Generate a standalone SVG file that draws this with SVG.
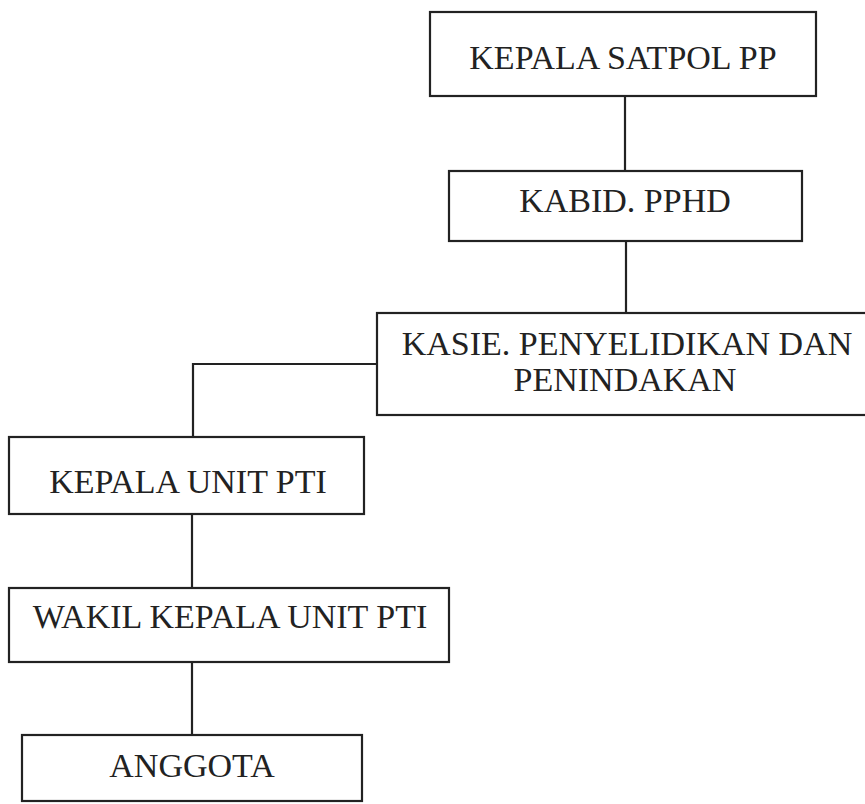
<svg xmlns="http://www.w3.org/2000/svg" width="865" height="804" viewBox="0 0 865 804">
<style>
.box{fill:#fff;stroke:#222;stroke-width:2.2}
.lbl{font-family:"Liberation Serif","Times New Roman",serif;font-size:34px;fill:#222;text-anchor:middle}
.conn{fill:none;stroke:#222;stroke-width:2.2}
</style>
<rect width="865" height="804" fill="#fff"/>
<g id="connectors">
<line class="conn" x1="625" y1="96" x2="625" y2="171"/>
<line class="conn" x1="626" y1="241" x2="626" y2="313"/>
<polyline class="conn" points="377,364 193,364 193,437"/>
<line class="conn" x1="192" y1="514" x2="192" y2="588"/>
<line class="conn" x1="192" y1="662" x2="192" y2="735"/>
</g>
<g id="kepala-satpol">
<rect class="box" x="430" y="12" width="386" height="84"/>
<text class="lbl" x="623" y="69">KEPALA SATPOL PP</text>
</g>
<g id="kabid">
<rect class="box" x="449" y="171" width="353" height="70"/>
<text class="lbl" x="625" y="212">KABID. PPHD</text>
</g>
<g id="kasie">
<rect class="box" x="377" y="313" width="494" height="102"/>
<text class="lbl" x="627" y="355">KASIE. PENYELIDIKAN DAN</text>
<text class="lbl" x="625" y="391">PENINDAKAN</text>
</g>
<g id="kepala-unit">
<rect class="box" x="9" y="437" width="355" height="77"/>
<text class="lbl" x="188" y="493">KEPALA UNIT PTI</text>
</g>
<g id="wakil">
<rect class="box" x="9" y="588" width="440" height="74"/>
<text class="lbl" x="230" y="628">WAKIL KEPALA UNIT PTI</text>
</g>
<g id="anggota">
<rect class="box" x="22" y="735" width="340" height="66"/>
<text class="lbl" x="192" y="777">ANGGOTA</text>
</g>
</svg>
